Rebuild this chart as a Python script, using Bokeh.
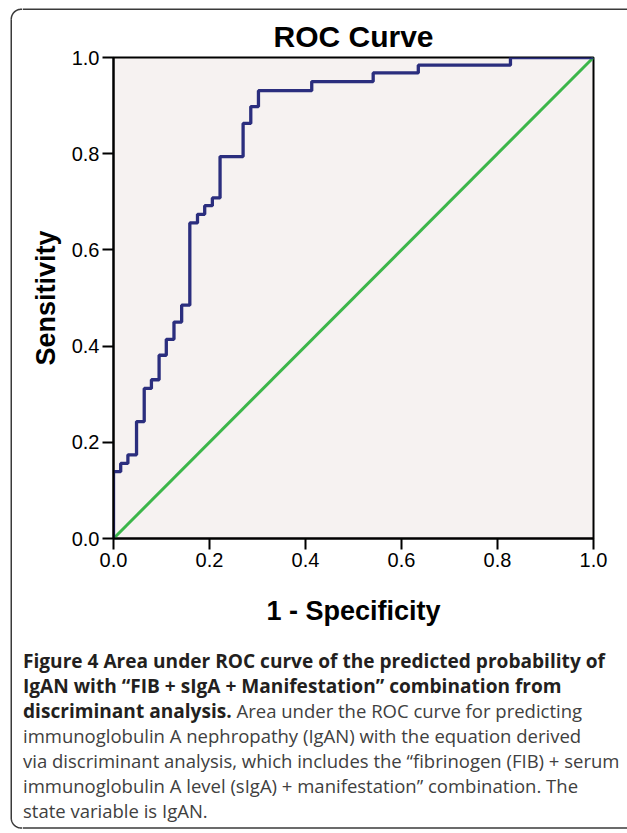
import numpy as np
from bokeh.plotting import figure
from bokeh.layouts import row, column
from bokeh.models import Range1d, FixedTicker, NumeralTickFormatter, ColumnDataSource
from bokeh.core.properties import value
from bokeh.embed import file_html
from bokeh.resources import INLINE

# ---------------- data ----------------
fpr = [0.0, 0.0, 0.015, 0.030, 0.048, 0.064, 0.079, 0.095, 0.110, 0.126, 0.142,
       0.159, 0.175, 0.190, 0.206, 0.222, 0.270, 0.286, 0.302, 0.413, 0.541,
       0.635, 0.827, 1.0]
tpr = [0.0, 0.139, 0.156, 0.174, 0.243, 0.312, 0.330, 0.381, 0.414, 0.450, 0.485,
       0.656, 0.674, 0.692, 0.708, 0.794, 0.863, 0.898, 0.931, 0.950, 0.968,
       0.984, 1.0, 1.0]
ref_x = [0.0, 1.0]
ref_y = [0.0, 1.0]
tick_values = [0.0, 0.2, 0.4, 0.6, 0.8, 1.0]

title_text = "ROC Curve"
x_label = "1 - Specificity"
y_label = "Sensitivity"

caption_bold = [
    "Figure 4 Area under ROC curve of the predicted probability of",
    "IgAN with \u201cFIB + sIgA + Manifestation\u201d combination from",
    "discriminant analysis.",
]
caption_normal = [
    "Area under the ROC curve for predicting",
    "immunoglobulin A nephropathy (IgAN) with the equation derived",
    "via discriminant analysis, which includes the \u201cfibrinogen (FIB) + serum",
    "immunoglobulin A level (sIgA) + manifestation\u201d combination. The",
    "state variable is IgAN.",
]

# ---------------- page geometry (pixels) ----------------
W, H = 627, 833
STRIP_W = 22          # left strip holding the left edge of the rounded frame
TOP_H = 12            # top strip holding the top edge of the frame
CHART_H = 628
CAP_H = H - TOP_H - CHART_H
BOX_L, BOX_T, BOX_B, BOX_R = 10.75, 8.75, 827.5, 10.0
BOX_COLOR = "#3a3a3a"
BOX_W = 1.5


def blank(width, height, x0, x1, y0, y1):
    f = figure(width=width, height=height, output_backend="svg", toolbar_location=None,
               x_range=Range1d(x0, x1), y_range=Range1d(y0, y1),
               x_axis_location=None, y_axis_location=None, min_border=0,
               background_fill_color="white", border_fill_color="white",
               frame_align=False)
    f.outline_line_color = None
    f.grid.visible = False
    f.title.visible = False
    return f


# left strip: left edge with both rounded corners
left = blank(STRIP_W, H, 0, STRIP_W, H, 0)
left.line([BOX_L, BOX_L], [BOX_T + BOX_R, BOX_B - BOX_R], line_color=BOX_COLOR, line_width=BOX_W)
t = np.linspace(0, np.pi / 2, 20)
cx = BOX_L + BOX_R
left.line(list(cx - BOX_R * np.cos(t)) + [STRIP_W], list(BOX_T + BOX_R - BOX_R * np.sin(t)) + [BOX_T],
          line_color=BOX_COLOR, line_width=BOX_W)
left.line(list(cx - BOX_R * np.cos(t)) + [STRIP_W], list(BOX_B - BOX_R + BOX_R * np.sin(t)) + [BOX_B],
          line_color=BOX_COLOR, line_width=BOX_W)

# top strip: top edge
top = blank(W - STRIP_W, TOP_H, STRIP_W, W, TOP_H, 0)
top.line([STRIP_W, W], [BOX_T, BOX_T], line_color=BOX_COLOR, line_width=BOX_W)

# ---------------- chart ----------------
FRAME_L, FRAME_R, FRAME_T, FRAME_B = 113, 593, 57, 538   # window pixels
p = figure(width=W - STRIP_W, height=CHART_H, output_backend="svg", toolbar_location=None,
           x_range=Range1d(0, 1), y_range=Range1d(0, 1),
           min_border_left=FRAME_L - STRIP_W, min_border_right=W - FRAME_R,
           min_border_top=FRAME_T - TOP_H, min_border_bottom=TOP_H + CHART_H - FRAME_B,
           background_fill_color="#f6f2f1", border_fill_color="white",
           frame_align=False)

p.title.text = title_text
p.title.align = "center"
p.title.text_font = "Liberation Sans"
p.title.text_font_style = "bold"
p.title.text_font_size = "30px"
p.title.text_color = "black"
p.title.standoff = 10

p.outline_line_color = "black"
p.outline_line_width = 2
p.outline_line_alpha = 1.0
p.grid.visible = False

for ax in (p.xaxis[0], p.yaxis[0]):
    ax.ticker = FixedTicker(ticks=tick_values)
    ax.formatter = NumeralTickFormatter(format="0.0")
    ax.axis_line_color = "black"
    ax.axis_line_width = 2
    ax.major_tick_line_color = "black"
    ax.major_tick_line_width = 2
    ax.major_tick_out = 11
    ax.major_tick_in = 0
    ax.minor_tick_line_color = None
    ax.major_label_text_font = "Liberation Sans"
    ax.major_label_text_font_size = "20px"
    ax.major_label_text_color = "black"
    ax.axis_label_text_font = "Liberation Sans"
    ax.axis_label_text_font_style = "bold"
    ax.axis_label_text_font_size = "27px"
    ax.axis_label_text_color = "black"

p.xaxis.axis_label = x_label
p.yaxis.axis_label = y_label
p.xaxis.major_label_standoff = 3
p.yaxis.major_label_standoff = 3
p.xaxis.axis_label_standoff = 26
p.yaxis.axis_label_standoff = 8

p.line(ref_x, ref_y, line_color="#3cb64a", line_width=3)
p.step(fpr, tpr, mode="after", line_color="#2b2e7e", line_width=3.3)

# ---------------- caption ----------------
cap_top = TOP_H + CHART_H
cap = blank(W - STRIP_W, CAP_H, STRIP_W, W, H, cap_top)
cap.line([STRIP_W, W], [BOX_B, BOX_B], line_color=BOX_COLOR, line_width=BOX_W)

TEXT_X = 22.5
RUN_X = 236
baselines = [660, 685, 710, 735, 760, 785, 810]

bold_src = ColumnDataSource(dict(x=[TEXT_X] * len(caption_bold), y=baselines[:3], text=caption_bold))
norm_src = ColumnDataSource(dict(x=[RUN_X] + [TEXT_X] * (len(caption_normal) - 1),
                                 y=baselines[2:], text=caption_normal))
cap.text(x="x", y="y", text="text", source=bold_src, text_font=value("Open Sans"),
         text_font_style=value("bold"), text_font_size=value("19.1px"), text_color="#231f20",
         text_baseline="alphabetic", text_align="left")
cap.text(x="x", y="y", text="text", source=norm_src, text_font=value("Open Sans"),
         text_font_size=value("18.5px"), text_color="#404040",
         text_baseline="alphabetic", text_align="left")

layout = row(left, column(top, p, cap, spacing=0), spacing=0)
open("out.html", "w").write(file_html(layout, INLINE))
